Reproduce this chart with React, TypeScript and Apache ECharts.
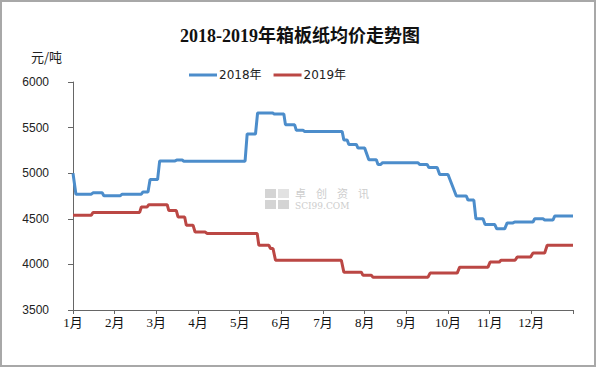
import React, { useEffect, useRef } from "react";
import * as echarts from "echarts";

const title = "2018-2019年箱板纸均价走势图";
const unitLabel = "元/吨";
const seriesNames = ["2018年", "2019年"];
const watermarkChars = ["卓", "创", "资", "讯"];
const watermarkSub = "SCI99.COM";

// [month position, price]
const data2018: [number, number][] = [
  [1.0, 5000], [1.07, 4770], [1.44, 4770], [1.48, 4785], [1.7, 4785], [1.74, 4752],
  [2.13, 4752], [2.18, 4770], [2.64, 4770], [2.68, 4795], [2.8, 4795], [2.85, 4930],
  [3.03, 4930], [3.08, 5135], [3.45, 5135], [3.5, 5145], [3.62, 5145], [3.66, 5132],
  [5.13, 5132], [5.18, 5430], [5.38, 5430], [5.43, 5660], [5.8, 5660], [5.83, 5648],
  [6.06, 5648], [6.1, 5530], [6.32, 5530], [6.36, 5470], [6.52, 5470], [6.56, 5458],
  [7.46, 5458], [7.5, 5365], [7.58, 5365], [7.62, 5315], [7.8, 5315], [7.84, 5275],
  [8.0, 5275], [8.1, 5148], [8.28, 5148], [8.32, 5095], [8.38, 5095], [8.43, 5115],
  [9.28, 5115], [9.32, 5095], [9.5, 5095], [9.54, 5062], [9.74, 5062], [9.8, 4985],
  [10.0, 4985], [10.2, 4750], [10.44, 4750], [10.48, 4705], [10.62, 4705], [10.67, 4500],
  [10.84, 4500], [10.89, 4438], [11.12, 4438], [11.17, 4390], [11.36, 4390], [11.42, 4455],
  [11.56, 4455], [11.6, 4465], [12.04, 4465], [12.08, 4500], [12.28, 4500], [12.32, 4487],
  [12.52, 4487], [12.56, 4530], [13.0, 4530],
];

const data2019: [number, number][] = [
  [1.0, 4540], [1.44, 4540], [1.48, 4570], [2.6, 4570], [2.64, 4630], [2.78, 4630],
  [2.82, 4655], [3.26, 4655], [3.3, 4590], [3.48, 4590], [3.52, 4520], [3.68, 4520],
  [3.72, 4430], [3.88, 4430], [3.93, 4355], [4.17, 4355], [4.22, 4340], [5.42, 4340],
  [5.46, 4210], [5.7, 4210], [5.74, 4175], [5.8, 4175], [5.86, 4045], [7.44, 4045],
  [7.5, 3915], [7.92, 3915], [7.96, 3880], [8.16, 3880], [8.2, 3860], [9.52, 3860],
  [9.57, 3905], [10.22, 3905], [10.28, 3970], [10.96, 3970], [11.01, 4025], [11.23, 4025],
  [11.27, 4045], [11.61, 4045], [11.66, 4080], [11.98, 4080], [12.04, 4125], [12.32, 4125],
  [12.38, 4210], [13.0, 4210],
];

const colors = ["#4c8dcb", "#bb4744"];

export default function App() {
  const ref = useRef<HTMLDivElement>(null);
  useEffect(() => {
    if (!ref.current) return;
    const chart = echarts.init(ref.current, undefined, { renderer: "svg" });
    const wmChars = watermarkChars.map((c, i) => ({
      type: "text",
      x: 30 + i * 21,
      y: -2,
      style: { text: c, fontSize: 11, lineHeight: 12, fill: "#cdcdcd", fontFamily: "Noto Sans CJK SC" },
    }));
    chart.setOption({
      animation: false,
      backgroundColor: "#ffffff",
      title: {
        text: title,
        left: "center",
        top: 22,
        textStyle: {
          fontFamily: "Liberation Serif, Noto Sans CJK SC",
          fontWeight: "bold",
          fontSize: 18,
          color: "#111",
        },
      },
      legend: {
        data: seriesNames,
        top: 64,
        left: 184,
        itemWidth: 28,
        itemHeight: 3,
        itemGap: 12,
        icon: "rect",
        textStyle: { fontSize: 12, color: "#222", fontFamily: "DejaVu Sans, Noto Sans CJK SC", padding: [0, 0, 0, -3] },
      },
      grid: { left: 73, right: 27, top: 82, bottom: 59 },
      xAxis: {
        type: "value",
        min: 1,
        max: 13,
        interval: 1,
        axisLine: { lineStyle: { color: "#666", width: 1 } },
        axisTick: { show: true, length: 4, inside: false, lineStyle: { color: "#666" } },
        splitLine: { show: false },
        axisLabel: {
          margin: 6,
          fontSize: 13,
          color: "#111",
          fontFamily: "Liberation Serif, Noto Sans CJK SC",
          showMaxLabel: true,
          formatter: (v: number) => (v >= 13 ? "" : `${v}月`),
        },
      },
      yAxis: {
        type: "value",
        min: 3500,
        max: 6000,
        interval: 500,
        axisLine: { show: true, lineStyle: { color: "#666", width: 1 } },
        axisTick: { show: true, length: 5, lineStyle: { color: "#666" } },
        splitLine: { show: false },
        axisLabel: {
          margin: 24,
          fontSize: 12,
          color: "#222",
          fontFamily: "Liberation Sans",
          formatter: (v: number) => String(v),
        },
      },
      graphic: [
        {
          type: "rect",
          shape: { x: 1, y: 1, width: 594, height: 365 },
          style: { fill: "none", stroke: "#a8a8a8", lineWidth: 2 },
          silent: true,
        },
        {
          type: "text",
          left: 31,
          top: 50,
          style: {
            text: unitLabel,
            fontSize: 13,
            fill: "#222",
            fontFamily: "Noto Sans CJK SC",
          },
        },
        {
          type: "group",
          left: 265,
          top: 187,
          silent: true,
          children: [
            { type: "rect", shape: { x: 0, y: 0, width: 11, height: 9 }, style: { fill: "#d4d4d4" } },
            { type: "rect", shape: { x: 13, y: 0, width: 11, height: 9 }, style: { fill: "#e2e2e2" } },
            { type: "rect", shape: { x: 0, y: 11, width: 11, height: 9 }, style: { fill: "#d4d4d4" } },
            { type: "rect", shape: { x: 13, y: 11, width: 11, height: 9 }, style: { fill: "#d4d4d4" } },
            ...wmChars,
            {
              type: "text",
              x: 30,
              y: 12,
              style: { text: watermarkSub, fontSize: 9, lineHeight: 10, fill: "#cdcdcd", fontFamily: "DejaVu Serif" },
            },
          ],
        },
      ],
      series: [
        {
          name: seriesNames[0],
          type: "line",
          data: data2018,
          showSymbol: false,
          symbol: "none",
          lineStyle: { color: colors[0], width: 3 },
          itemStyle: { color: colors[0] },
        },
        {
          name: seriesNames[1],
          type: "line",
          data: data2019,
          showSymbol: false,
          symbol: "none",
          lineStyle: { color: colors[1], width: 3 },
          itemStyle: { color: colors[1] },
        },
      ],
    });
    return () => chart.dispose();
  }, []);
  return (
    <div
      ref={ref}
      style={{ position: "absolute", left: 0, top: 0, width: 600, height: 369 }}
    />
  );
}
